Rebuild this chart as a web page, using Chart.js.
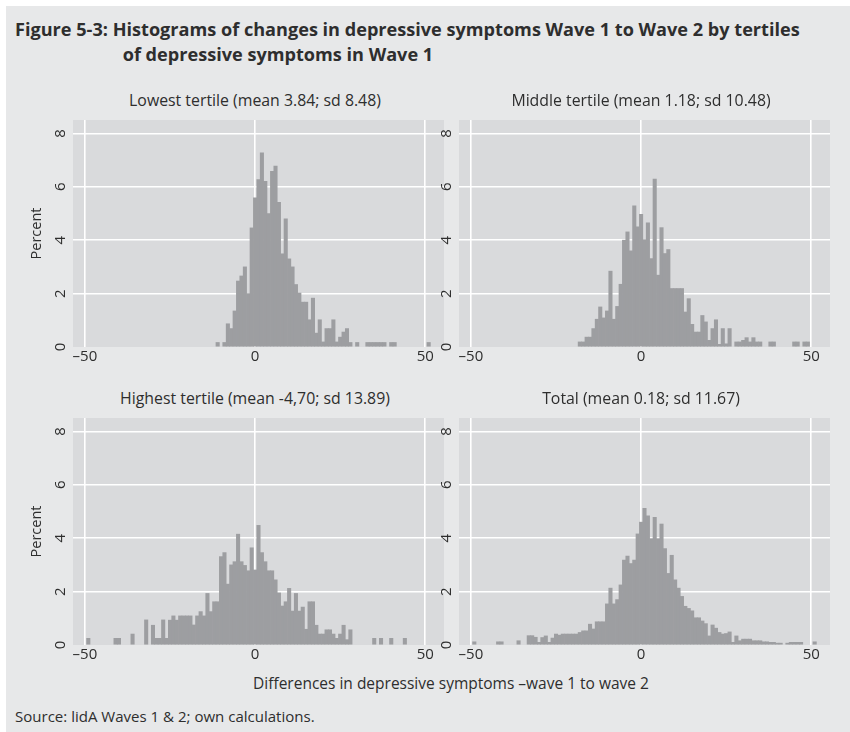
<!DOCTYPE html>
<html>
<head>
<meta charset="utf-8">
<script src="https://cdn.jsdelivr.net/npm/chart.js@4.4.1/dist/chart.umd.min.js"></script>
<style>
html,body{margin:0;padding:0;background:#ffffff;}
#page{position:relative;width:850px;height:732px;overflow:hidden;background:#ffffff;font-family:"Open Sans",sans-serif;color:#2e2e2e;}
#bg{position:absolute;left:6px;top:6px;right:0;bottom:0;background:#e7e8e9;}
.txt{position:absolute;white-space:nowrap;line-height:1;color:#2e2e2e;}
canvas{position:absolute;}
</style>
</head>
<body>
<div id="page"><div id="bg"></div></div>
<script>
// ---------------- DATA ----------------
const binCenters = [
 -50,-49,-48,-47,-46,-45,-44,-43,-42,-41,
 -40,-39,-38,-37,-36,-35,-34,-33,-32,-31,
 -30,-29,-28,-27,-26,-25,-24,-23,-22,-21,
 -20,-19,-18,-17,-16,-15,-14,-13,-12,-11,
 -10,-9,-8,-7,-6,-5,-4,-3,-2,-1,
 0,1,2,3,4,5,6,7,8,9,
 10,11,12,13,14,15,16,17,18,19,
 20,21,22,23,24,25,26,27,28,29,
 30,31,32,33,34,35,36,37,38,39,
 40,41,42,43,44,45,46,47,48,49,
 50,51,52
];
const lowestTertile = [
 0,0,0,0,0,0,0,0,0,0,
 0,0,0,0,0,0,0,0,0,0,
 0,0,0,0,0,0,0,0,0,0,
 0,0,0,0,0,0,0,0,0,0.17,
 0,0.17,0.87,0.69,1.35,2.47,2.66,3.0,2.0,4.46,
 5.59,6.27,7.27,6.2,5.0,6.58,6.77,5.42,3.49,4.8,
 3.3,3.0,2.34,2.02,1.68,1.68,1.02,1.83,0.52,1.02,
 0.19,0.69,0.69,1.02,0.19,0.37,0.56,0.69,0.17,0,
 0.17,0,0,0.17,0.17,0.17,0.17,0.17,0.17,0,
 0.17,0.17,0,0,0,0,0,0,0,0,
 0,0.17,0
];
const middleTertile = [
 0,0,0,0,0,0,0,0,0,0,
 0,0,0,0,0,0,0,0,0,0,
 0,0,0,0,0,0,0,0,0,0,
 0,0,0.19,0.19,0.37,0.37,0.69,1.04,1.5,1.09,
 1.35,2.84,1.04,1.52,2.35,4.0,4.31,3.6,5.29,4.5,
 4.97,4.02,4.65,3.31,6.29,2.69,4.47,3.5,3.65,2.19,
 2.19,2.19,2.19,1.31,1.81,0.85,0.56,0.56,1.18,0.94,
 0.25,0.69,1.02,0.1,0.69,0.12,0.69,0,0.19,0.19,
 0.25,0.35,0.19,0.35,0.19,0.19,0,0,0.19,0.19,
 0,0,0,0,0,0.19,0.19,0,0.19,0.19,
 0,0,0
];
const highestTertile = [
 0,0.25,0,0,0,0,0,0,0,0.25,
 0.25,0,0,0,0.41,0,0,0,0.94,0,
 0.74,0.25,0.25,0.94,0.25,0.93,1.09,0.93,1.09,1.09,
 1.09,1.09,0.75,1.09,1.25,1.09,1.93,1.25,1.62,1.62,
 3.31,3.46,2.28,3.0,3.12,4.15,3.12,2.98,2.78,3.64,
 2.81,4.48,3.46,3.12,2.78,2.78,2.44,1.95,1.46,1.62,
 2.12,1.27,1.93,1.27,1.42,0.59,1.62,1.62,0.74,0.41,
 0.41,0.57,0.57,0.41,0.25,0.41,0.74,0.2,0.57,0,
 0,0,0,0,0,0.25,0,0.25,0,0,
 0.25,0,0,0,0.25,0,0,0,0,0,
 0,0,0
];
const totalSample = [
 0,0.12,0,0,0,0,0,0,0.12,0.12,
 0,0,0,0,0.16,0,0,0.35,0.35,0.29,
 0.1,0.28,0.34,0.1,0.26,0.41,0.37,0.41,0.41,0.41,
 0.41,0.41,0.47,0.53,0.53,0.78,0.6,0.87,0.87,0.87,
 1.54,2.13,1.54,1.7,2.25,3.18,3.33,3.05,3.18,4.16,
 4.6,5.12,4.84,3.98,4.78,3.98,4.53,3.61,2.68,3.36,
 2.44,2.13,1.82,1.45,1.37,1.28,1.02,1.02,0.9,0.8,
 0.34,0.75,0.63,0.47,0.41,0.43,0.49,0.1,0.34,0.16,
 0.22,0.22,0.22,0.16,0.16,0.16,0.12,0.12,0.1,0.1,
 0.07,0.07,0,0.07,0.1,0.1,0.1,0.1,0,0,
 0,0.12,0
];
const xTickValues = [-50, 0, 50];
const yTickValues = [0, 2, 4, 6, 8];
const panelTitles = [
 'Lowest tertile (mean 3.84; sd 8.48)',
 'Middle tertile (mean 1.18; sd 10.48)',
 'Highest tertile (mean -4,70; sd 13.89)',
 'Total (mean 0.18; sd 11.67)'
];
const titleLine1 = 'Figure 5-3: Histograms of changes in depressive symptoms Wave 1 to Wave 2 by tertiles';
const titleLine2 = 'of depressive symptoms in Wave 1';
const xAxisTitle = 'Differences in depressive symptoms \u2013wave 1 to wave 2';
const yAxisTitle = 'Percent';
const sourceNote = 'Source: lidA Waves 1 & 2; own calculations.';

// ---------------- STYLE / LAYOUT ----------------
const FONT = '"Open Sans", "Noto Sans", sans-serif';
const TEXT = '#2e2e2e';
const PLOT_BG = '#d9dadc';
const BAR = '#9d9ea1';
const TICK_SIZE = 15;
const page = document.getElementById('page');
const mctx = document.createElement('canvas').getContext('2d');

function measure(txt, weight, size){
  mctx.font = weight + ' ' + size + 'px ' + FONT;
  return mctx.measureText(txt).width;
}
function addText(txt, o){
  const size = o.size || (o.fit * 100 / measure(txt, o.weight, 100));
  const w = measure(txt, o.weight, size);
  const d = document.createElement('div');
  d.className = 'txt';
  d.textContent = txt;
  d.style.fontSize = size + 'px';
  d.style.fontWeight = o.weight;
  d.style.left = (o.cx !== undefined ? o.cx - w / 2 : o.x) + 'px';
  d.style.top = (o.cy - 0.53 * size) + 'px';
  page.appendChild(d);
  return size;
}

const tSize = addText(titleLine1, {x: 15, cy: 30, fit: 785, weight: 'bold'});
addText(titleLine2, {x: 122.7, cy: 55, size: tSize, weight: 'bold'});
const pSize = 100 * 252 / measure(panelTitles[0], 'normal', 100);
addText(xAxisTitle, {cx: 451, cy: 684, fit: 396, weight: 'normal'});
addText(sourceNote, {x: 15, cy: 716.5, fit: 300, weight: 'normal'});

const plotBg = {
  id: 'plotBg',
  beforeDraw(chart){
    const {ctx, chartArea: a} = chart;
    ctx.save();
    ctx.fillStyle = PLOT_BG;
    ctx.fillRect(a.left, a.top, a.right - a.left, a.bottom - a.top);
    ctx.restore();
  }
};
const yLabels = {
  id: 'yLabels',
  afterDraw(chart, args, opts){
    const {ctx, chartArea: a, scales: {y}} = chart;
    ctx.save();
    ctx.fillStyle = TEXT;
    ctx.font = TICK_SIZE + 'px ' + FONT;
    ctx.textAlign = 'center';
    ctx.textBaseline = 'middle';
    yTickValues.forEach(v => {
      ctx.save();
      ctx.translate(a.left - 12, y.getPixelForValue(v));
      ctx.rotate(-Math.PI / 2);
      ctx.fillText(String(v), 0, 0);
      ctx.restore();
    });
    if (opts.title){
      ctx.font = '14.5px ' + FONT;
      ctx.save();
      ctx.translate(a.left - 36, (a.top + a.bottom) / 2);
      ctx.rotate(-Math.PI / 2);
      ctx.fillText(opts.title, 0, 0);
      ctx.restore();
    }
    ctx.restore();
  }
};

const W = 371, H = 227, padB = 26, padR = 4;
const panels = [
  {vals: lowestTertile, title: panelTitles[0], L: 73, T: 120, first: true},
  {vals: middleTertile, title: panelTitles[1], L: 459, T: 120, first: false},
  {vals: highestTertile, title: panelTitles[2], L: 73, T: 418, first: true},
  {vals: totalSample, title: panelTitles[3], L: 459, T: 418, first: false}
];

panels.forEach(p => {
  const padL = p.first ? 50 : 20;
  const cv = document.createElement('canvas');
  cv.width = padL + W + padR;
  cv.height = H + padB;
  cv.style.left = (p.L - padL) + 'px';
  cv.style.top = p.T + 'px';
  cv.style.width = cv.width + 'px';
  cv.style.height = cv.height + 'px';
  page.appendChild(cv);

  addText(p.title, {cx: p.L + W / 2 - 3.5, cy: p.T - 18.5, size: pSize, weight: 'normal'});

  new Chart(cv, {
    type: 'bar',
    data: {
      datasets: [{
        data: binCenters.map((b, i) => ({x: b, y: p.vals[i] === 0 ? null : p.vals[i]})),
        backgroundColor: BAR,
        borderWidth: 0,
        barPercentage: 1,
        categoryPercentage: 1
      }]
    },
    options: {
      responsive: false,
      animation: false,
      devicePixelRatio: 1,
      layout: {padding: {left: 0, right: padR, top: 0, bottom: 0}},
      plugins: {legend: {display: false}, tooltip: {enabled: false}, yLabels: {title: p.first ? yAxisTitle : ''}},
      scales: {
        x: {
          type: 'linear', min: -53.5, max: 55.5, offset: false,
          afterBuildTicks: s => { s.ticks = xTickValues.map(v => ({value: v})); },
          grid: {color: '#ffffff', lineWidth: 1.6, drawTicks: false, offset: false},
          border: {display: false},
          ticks: {
            padding: 1, color: TEXT, autoSkip: false, maxRotation: 0,
            font: {family: FONT, size: TICK_SIZE},
            callback: v => v < 0 ? '\u2013' + (-v) : String(v)
          },
          afterFit: s => { s.height = padB; }
        },
        y: {
          min: 0, max: 8.5,
          afterBuildTicks: s => { s.ticks = yTickValues.map(v => ({value: v})); },
          grid: {color: c => (c.tick && c.tick.value === 0) ? 'rgba(0,0,0,0)' : '#ffffff', lineWidth: 1.6, drawTicks: false},
          border: {display: false},
          ticks: {display: false},
          afterFit: s => { s.width = padL; }
        }
      }
    },
    plugins: [plotBg, yLabels]
  });
});
</script>
</body>
</html>
